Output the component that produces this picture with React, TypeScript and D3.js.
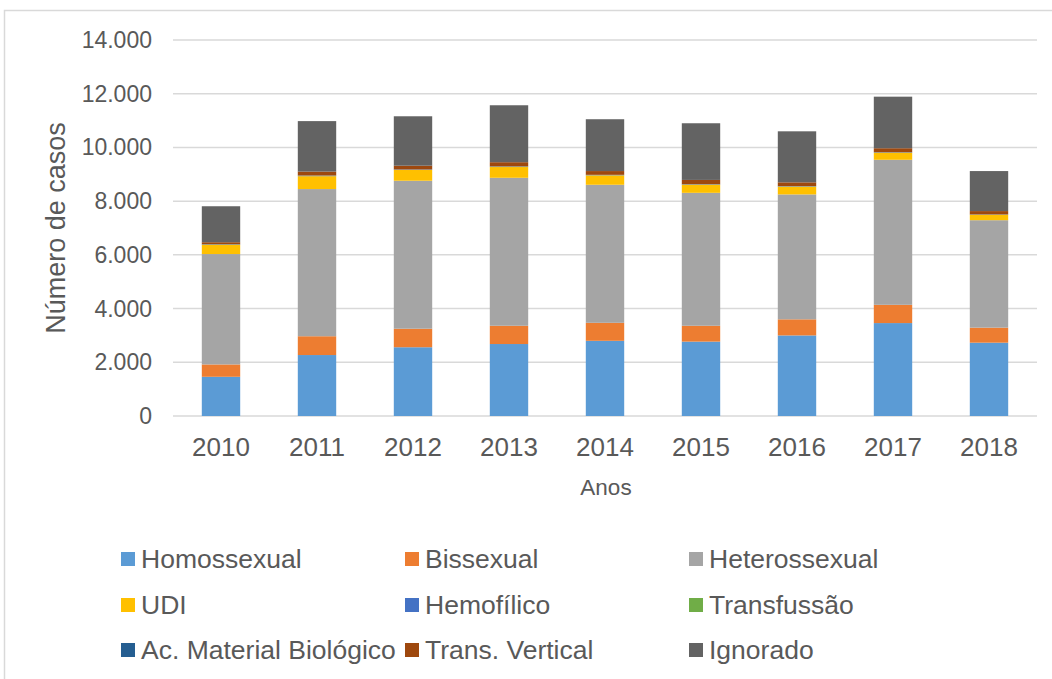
import React from "react";
import * as d3 from "d3";

// categories and series
const anos = ["2010", "2011", "2012", "2013", "2014", "2015", "2016", "2017", "2018"];
const seriesNames = [
  "Homossexual",
  "Bissexual",
  "Heterossexual",
  "UDI",
  "Hemofílico",
  "Transfussão",
  "Ac. Material Biológico",
  "Trans. Vertical",
  "Ignorado",
];
const homossexual = [1460, 2270, 2560, 2680, 2800, 2770, 3000, 3460, 2730];
const bissexual = [460, 700, 690, 680, 670, 590, 600, 680, 560];
const heterossexual = [4110, 5480, 5510, 5510, 5140, 4950, 4650, 5400, 4000];
const udi = [340, 480, 400, 400, 350, 300, 290, 260, 200];
const hemofilico = [10, 10, 10, 10, 10, 10, 10, 10, 5];
const transfussao = [10, 10, 5, 10, 5, 5, 5, 5, 5];
const acMaterial = [5, 5, 5, 5, 5, 5, 5, 5, 5];
const transVertical = [75, 145, 140, 155, 140, 160, 140, 150, 125];
const ignorado = [1340, 1880, 1840, 2120, 1930, 2110, 1900, 1920, 1490];
const yTicks = [0, 2000, 4000, 6000, 8000, 10000, 12000, 14000];
const colors = [
  "#5B9BD5", "#ED7D31", "#A5A5A5", "#FFC000", "#4472C4",
  "#70AD47", "#255E91", "#9E480E", "#636363",
];

const W = 1052;
const H = 679;
const FONT = "'Liberation Sans', Arial, sans-serif";
const TEXT = "#595959";

function fmt(v: number) {
  return v === 0 ? "0" : d3.format(",")(v).replace(/,/g, ".");
}

export default function App() {
  const allSeries = [
    homossexual, bissexual, heterossexual, udi, hemofilico,
    transfussao, acMaterial, transVertical, ignorado,
  ];
  const rows = anos.map((a, i) => {
    const r: any = { ano: a };
    seriesNames.forEach((n, k) => (r[n] = allSeries[k][i]));
    return r;
  });
  const stacked = d3.stack().keys(seriesNames)(rows);

  const x = d3.scaleBand().domain(anos).range([173, 1037]).paddingInner(0.6).paddingOuter(0.3);
  const y = d3.scaleLinear().domain([0, 14000]).range([416, 40]);

  const legendCols = [121, 405, 689];
  const legendRows = [559, 605, 650];

  return (
    <svg width={W} height={H} style={{ position: "absolute", left: 0, top: 0, background: "#fff" }}
      fontFamily={FONT}>
      <rect x={4.5} y={10.5} width={1100} height={700} fill="#fff" stroke="#D9D9D9" strokeWidth={1.5} />
      {yTicks.map((t) => (
        <g key={t}>
          <line x1={173} x2={1037} y1={y(t)} y2={y(t)} stroke="#D9D9D9" strokeWidth={1.5} />
          <text x={152} y={y(t)} textAnchor="end" dominantBaseline="central" fontSize={23} fill={TEXT}>
            {fmt(t)}
          </text>
        </g>
      ))}
      {stacked.map((s, k) => (
        <g key={s.key} fill={colors[k]}>
          {s.map((d, i) => (
            <rect key={i} x={x(anos[i])} width={x.bandwidth()} y={y(d[1])}
              height={Math.max(0, y(d[0]) - y(d[1]))} />
          ))}
        </g>
      ))}
      {anos.map((a) => (
        <text key={a} x={(x(a) as number) + x.bandwidth() / 2} y={447} textAnchor="middle"
          dominantBaseline="central" fontSize={26} fill={TEXT}>
          {a}
        </text>
      ))}
      <text x={606} y={487} textAnchor="middle" dominantBaseline="central" fontSize={22.5} fill={TEXT}>
        Anos
      </text>
      <text transform="translate(56,228) rotate(-90)" textAnchor="middle" dominantBaseline="central"
        fontSize={27} fill={TEXT}>
        Número de casos
      </text>
      {seriesNames.map((n, k) => {
        const cx = legendCols[k % 3];
        const cy = legendRows[Math.floor(k / 3)];
        return (
          <g key={n}>
            <rect x={cx} y={cy - 7} width={14} height={14} fill={colors[k]} />
            <text x={cx + 20} y={cy} dominantBaseline="central" fontSize={26.5} fill={TEXT}>
              {n}
            </text>
          </g>
        );
      })}
    </svg>
  );
}
